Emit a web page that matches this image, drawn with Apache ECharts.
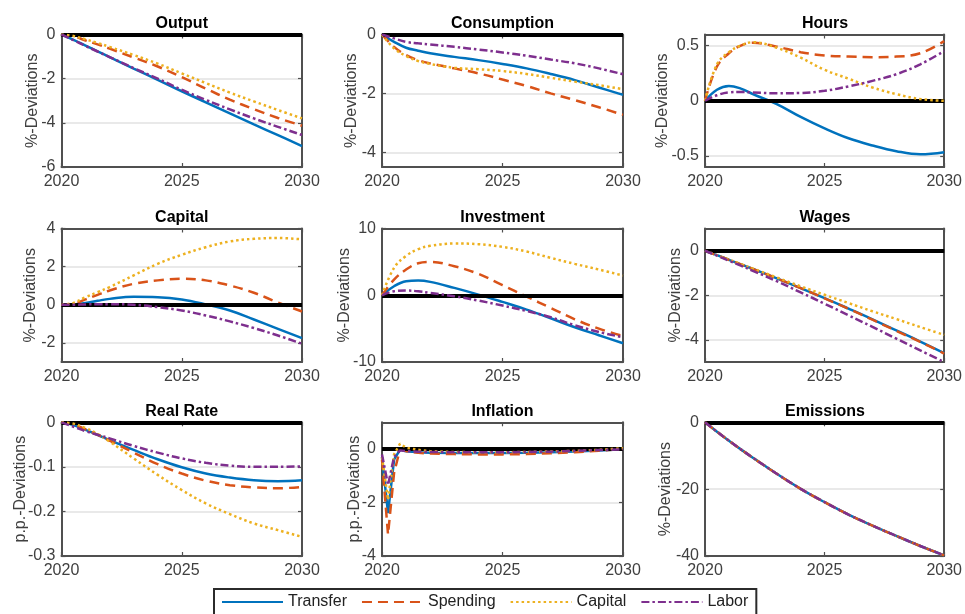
<!DOCTYPE html>
<html><head><meta charset="utf-8">
<script src="https://cdn.jsdelivr.net/npm/echarts@6/dist/echarts.min.js"></script>
<style>html,body{margin:0;padding:0;background:#fff}#c{width:965px;height:614px}</style>
</head><body><div id="c"></div><script>
// ---------- DATA ----------
const seriesNames = ['Transfer', 'Spending', 'Capital', 'Labor'];
const years = [2020, 2020.5, 2021, 2021.5, 2022, 2023, 2024, 2025, 2026, 2027, 2028, 2029, 2030];
const inflYears = [2020, 2020.25, 2020.5, 2020.75, 2021, 2021.5, 2022, 2023, 2024, 2025, 2026, 2027, 2028, 2029, 2030];
const xTicks = [2020, 2025, 2030];

const output_transfer = [0, -0.24, -0.5, -0.76, -1.02, -1.54, -2.05, -2.57, -3.07, -3.57, -4.07, -4.56, -5.05];
const output_spending = [0, -0.08, -0.27, -0.45, -0.64, -1.04, -1.45, -1.93, -2.45, -2.95, -3.38, -3.78, -4.13];
const output_capital  = [0, -0.07, -0.22, -0.38, -0.56, -0.93, -1.32, -1.76, -2.2, -2.63, -3.03, -3.42, -3.8];
const output_labor    = [0, -0.26, -0.52, -0.77, -1.02, -1.52, -2.0, -2.5, -2.96, -3.39, -3.8, -4.18, -4.55];

const cons_transfer = [0, -0.25, -0.45, -0.55, -0.64, -0.76, -0.87, -1.0, -1.15, -1.34, -1.55, -1.8, -2.05];
const cons_spending = [0, -0.42, -0.7, -0.87, -0.98, -1.15, -1.32, -1.53, -1.75, -2.0, -2.23, -2.47, -2.73];
const cons_capital  = [0, -0.47, -0.73, -0.9, -1.0, -1.13, -1.18, -1.24, -1.34, -1.47, -1.6, -1.72, -1.86];
const cons_labor    = [0, -0.13, -0.25, -0.3, -0.34, -0.42, -0.51, -0.61, -0.72, -0.85, -0.98, -1.15, -1.35];

const hours_transfer = [0, 0.1, 0.134, 0.11, 0.06, -0.03, -0.146, -0.25, -0.34, -0.405, -0.457, -0.485, -0.466];
const hours_spending = [0, 0.31, 0.43, 0.5, 0.525, 0.49, 0.44, 0.41, 0.4, 0.395, 0.4, 0.43, 0.54];
const hours_capital  = [0, 0.33, 0.44, 0.5, 0.53, 0.48, 0.39, 0.28, 0.2, 0.12, 0.06, 0.015, 0.0];
const hours_labor    = [0, 0.05, 0.076, 0.08, 0.075, 0.068, 0.07, 0.09, 0.13, 0.18, 0.24, 0.33, 0.45];

const capital_transfer = [0, 0.02, 0.1, 0.21, 0.31, 0.42, 0.4, 0.28, 0.02, -0.3, -0.77, -1.26, -1.75];
const capital_spending = [0, 0.05, 0.28, 0.52, 0.75, 1.1, 1.28, 1.36, 1.28, 1.01, 0.63, 0.12, -0.35];
const capital_capital  = [0, 0.1, 0.4, 0.66, 0.93, 1.54, 2.15, 2.62, 3.02, 3.32, 3.46, 3.5, 3.43];
const capital_labor    = [0, 0, 0.02, 0.03, 0.03, 0.0, -0.12, -0.3, -0.56, -0.87, -1.22, -1.61, -2.04];

const inv_transfer = [0, 1.35, 2.1, 2.2, 2.0, 1.1, 0.1, -1.0, -2.15, -3.45, -4.8, -6.0, -7.2];
const inv_spending = [0, 2.35, 3.85, 4.8, 5.0, 4.35, 3.2, 1.5, -0.2, -1.9, -3.6, -5.0, -6.1];
const inv_capital  = [0, 4.1, 5.9, 6.9, 7.4, 7.75, 7.65, 7.25, 6.55, 5.6, 4.7, 3.85, 2.95];
const inv_labor    = [0, 0.6, 0.7, 0.6, 0.35, -0.15, -0.8, -1.55, -2.35, -3.3, -4.5, -5.5, -6.3];

const wages_transfer = [0, -0.2, -0.41, -0.61, -0.82, -1.24, -1.68, -2.13, -2.6, -3.08, -3.58, -4.08, -4.6];
const wages_spending = [0, -0.2, -0.41, -0.61, -0.82, -1.24, -1.68, -2.14, -2.61, -3.1, -3.6, -4.1, -4.62];
const wages_capital  = [0, -0.2, -0.4, -0.6, -0.8, -1.2, -1.6, -1.98, -2.35, -2.72, -3.07, -3.43, -3.78];
const wages_labor    = [0, -0.22, -0.45, -0.67, -0.9, -1.37, -1.87, -2.38, -2.9, -3.42, -3.95, -4.48, -5.0];

const rate_transfer = [0, -0.006, -0.017, -0.028, -0.04, -0.062, -0.083, -0.101, -0.115, -0.124, -0.13, -0.132, -0.13];
const rate_spending = [0, -0.005, -0.016, -0.028, -0.041, -0.068, -0.094, -0.115, -0.131, -0.141, -0.146, -0.148, -0.145];
const rate_capital  = [0, -0.003, -0.013, -0.026, -0.043, -0.081, -0.118, -0.152, -0.182, -0.206, -0.227, -0.242, -0.257];
const rate_labor    = [0, -0.01, -0.02, -0.028, -0.036, -0.053, -0.068, -0.081, -0.091, -0.097, -0.1, -0.1, -0.099];

const infl_transfer = [-0.3, -2.4, -0.4, -0.02, -0.08, -0.12, -0.14, -0.15, -0.15, -0.15, -0.14, -0.12, -0.09, -0.05, -0.01];
const infl_spending = [-0.4, -3.2, -0.9, 0.0, -0.08, -0.14, -0.17, -0.19, -0.2, -0.2, -0.19, -0.16, -0.12, -0.06, 0.0];
const infl_capital  = [-0.3, -1.9, -0.2, 0.2, 0.05, -0.03, -0.08, -0.11, -0.12, -0.12, -0.11, -0.09, -0.07, -0.03, 0.03];
const infl_labor    = [-0.2, -1.35, -0.3, -0.05, -0.08, -0.1, -0.11, -0.12, -0.12, -0.12, -0.11, -0.1, -0.07, -0.04, -0.01];

const emis_transfer = [0, -2.8, -5.5, -8.1, -10.6, -15.4, -19.9, -23.9, -27.6, -30.9, -34.0, -37.0, -39.8];
const emis_spending = [0, -2.8, -5.5, -8.1, -10.6, -15.4, -19.9, -23.9, -27.6, -30.9, -34.0, -37.0, -39.8];
const emis_capital  = [0, -2.8, -5.5, -8.1, -10.6, -15.4, -19.9, -23.9, -27.6, -30.9, -34.0, -37.0, -39.8];
const emis_labor    = [0, -2.8, -5.5, -8.1, -10.6, -15.4, -19.9, -23.9, -27.6, -30.9, -34.0, -37.0, -39.8];

const titles = ['Output', 'Consumption', 'Hours', 'Capital', 'Investment', 'Wages', 'Real Rate', 'Inflation', 'Emissions'];
const yNames = ['%-Deviations', '%-Deviations', '%-Deviations', '%-Deviations', '%-Deviations', '%-Deviations', 'p.p.-Deviations', 'p.p.-Deviations', '%-Deviations'];
const yMins = [-6, -4.5, -0.6, -3, -10, -5, -0.3, -4, -40];
const yMaxs = [0, 0, 0.6, 4, 10, 1, 0, 1, 0];
const yTicks = [
  [-6, -4, -2, 0], [-4, -2, 0], [-0.5, 0, 0.5],
  [-2, 0, 2, 4], [-10, 0, 10], [-4, -2, 0],
  [-0.3, -0.2, -0.1, 0], [-4, -2, 0], [-40, -20, 0]
];
const panelData = [
  [output_transfer, output_spending, output_capital, output_labor],
  [cons_transfer, cons_spending, cons_capital, cons_labor],
  [hours_transfer, hours_spending, hours_capital, hours_labor],
  [capital_transfer, capital_spending, capital_capital, capital_labor],
  [inv_transfer, inv_spending, inv_capital, inv_labor],
  [wages_transfer, wages_spending, wages_capital, wages_labor],
  [rate_transfer, rate_spending, rate_capital, rate_labor],
  [infl_transfer, infl_spending, infl_capital, infl_labor],
  [emis_transfer, emis_spending, emis_capital, emis_labor]
];
const panelX = [years, years, years, years, years, years, years, inflYears, years];

// ---------- STYLE / LAYOUT ----------
const FONT = '"Liberation Sans", Arial, Helvetica, sans-serif';
const AX = '#505050', LBL = '#404040';
const colors = ['#0072BD', '#D95319', '#EDB120', '#7E2F8E'];
const dashes = ['solid', [10, 6], [2.5, 3], [8, 3, 2.5, 3]];
const colLeft = [61.5, 382, 705], colW = [240.5, 241, 240];
const rowTop = [34.5, 228.5, 422.3], rowH = [132.5, 133.5, 133.7];
const nameGaps = [21, 22, 34, 22.5, 29.5, 21, 32.5, 19, 31];

const grid = [], xAxis = [], yAxis = [], series = [], title = [];
titles.forEach((t, i) => {
  const r = Math.floor(i / 3), c = i % 3;
  grid.push({ left: colLeft[c], top: rowTop[r], width: colW[c], height: rowH[r] });
  title.push({ text: t, left: colLeft[c] + colW[c] / 2, top: rowTop[r] - 19, textAlign: 'center', padding: 0,
    textStyle: { fontFamily: FONT, fontSize: 16, fontWeight: 'bold', color: '#000' } });
  const axisLine = { show: true, onZero: false, lineStyle: { color: AX, width: 2 } };
  const tickStyle = { color: AX, width: 1.2 };
  ['bottom', 'top'].forEach((pos, k) => {
    xAxis.push({ type: 'value', gridIndex: i, min: 2020, max: 2030, position: pos, axisLine,
      axisTick: { show: true, inside: true, length: 4, lineStyle: tickStyle, customValues: xTicks },
      axisLabel: { show: k === 0, customValues: xTicks, margin: 7, color: LBL, fontSize: 16, fontFamily: FONT,
        formatter: v => String(v) },
      splitLine: { show: false } });
  });
  ['left', 'right'].forEach((pos, k) => {
    const ax = { type: 'value', gridIndex: i, min: yMins[i], max: yMaxs[i], position: pos, axisLine,
      axisTick: { show: true, inside: true, length: 4, lineStyle: tickStyle, customValues: yTicks[i] },
      axisLabel: { show: k === 0, customValues: yTicks[i], margin: 6, color: LBL, fontSize: 16, fontFamily: FONT,
        formatter: v => String(v) },
      splitLine: { show: k === 0, lineStyle: { color: '#e2e2e2', width: 1.5 } } };
    if (k === 0) {
      ax.name = yNames[i]; ax.nameLocation = 'middle'; ax.nameGap = nameGaps[i];
      ax.nameMoveOverlap = false;
      ax.nameTextStyle = { fontFamily: FONT, fontSize: 16, color: LBL };
    }
    yAxis.push(ax);
  });
  seriesNames.forEach((nm, k) => {
    const xs = panelX[i], ys = panelData[i][k];
    const s = { type: 'line', name: nm, xAxisIndex: 2 * i, yAxisIndex: 2 * i,
      data: xs.map((x, j) => [x, ys[j]]), symbol: 'none', showSymbol: false,
      smooth: i === 7 ? false : 0.4, silent: true, z: 3 + k,
      lineStyle: { color: colors[k], width: 2.5, type: dashes[k], cap: 'butt' },
      itemStyle: { color: colors[k] } };
    if (k === 3) {
      s.markLine = { silent: true, symbol: 'none', label: { show: false }, animation: false,
        lineStyle: { color: '#000', width: 4, type: 'solid' }, data: [{ yAxis: 0 }] };
    }
    series.push(s);
  });
});

const chart = echarts.init(document.getElementById('c'), null, { renderer: 'canvas' });
chart.setOption({
  animation: false,
  backgroundColor: '#fff',
  title, grid, xAxis, yAxis, series,
  legend: { data: seriesNames, left: 214, top: 589, padding: [5, 8, 5, 7], itemWidth: 61, itemHeight: 14, itemGap: 14,
    borderColor: '#2b2b2b', borderWidth: 2, backgroundColor: '#fff', selectedMode: false,
    itemStyle: { opacity: 0 },
    textStyle: { fontFamily: FONT, fontSize: 16, color: '#222' } }
});
</script></body></html>
